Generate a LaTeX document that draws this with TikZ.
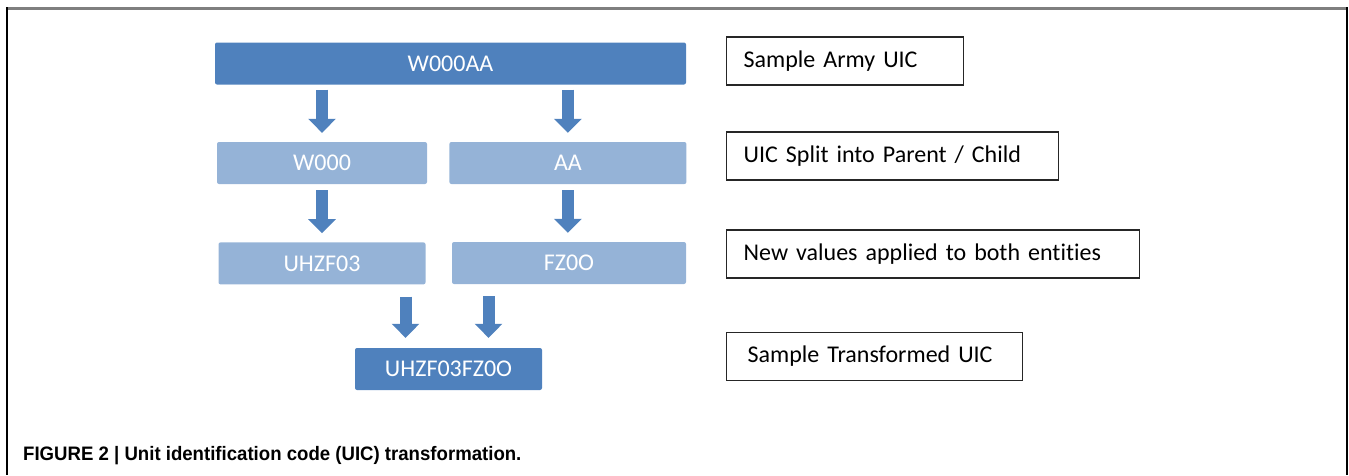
\documentclass[tikz,border=0pt]{standalone}
\usepackage{fontspec}
\setmainfont{Carlito}[RawFeature=-liga]
\newfontfamily\capfont{Liberation Sans}
\usetikzlibrary{arrows.meta,positioning}
\definecolor{darkblue}{HTML}{4F81BD}
\definecolor{lightblue}{HTML}{95B3D7}
\definecolor{framegray}{HTML}{7F7F7F}

\begin{document}
\begin{tikzpicture}[x=1pt,y=-1pt,font=\fontsize{24}{28}\selectfont,
		code/.style={rectangle,rounded corners=2pt,text=white,minimum height=42pt,inner sep=0pt},
		dark/.style={code,fill=darkblue},
		light/.style={code,fill=lightblue},
		lbl/.style={draw=black!85,line width=1.3pt,minimum height=48pt,anchor=west,align=left,inner xsep=17pt},
		bigarrow/.style={darkblue,line width=12pt,-{Triangle[width=27pt,length=14pt]}}]
			\useasboundingbox (0,0) rectangle (1349,475);
			% frame
			\draw[framegray,line width=3pt] (7,8.5) -- (1348,8.5);
			\draw[black,line width=2pt] (7,7) -- (7,475);
			\draw[black,line width=2pt] (1347,7) -- (1347,475);
			% codes
			\node[dark, minimum width=471pt] (top) at (450.5,63.5) {W000AA};
			\node[light, minimum width=210pt] (w000) at (322,163) {W000};
			\node[light, minimum width=237pt] (aa) [right=22pt of w000] {AA};
			\node[light, minimum width=207pt] (uhzf) [below=58pt of w000] {UHZF03};
			\node[light, minimum width=234pt] (fz0o) at (569,263) {FZ0O};
			\node[dark, minimum width=187pt] (final) at (448.5,369) {UHZF03FZ0O};
			\coordinate (inl) at ([xshift=-43pt]final.north);
			\coordinate (inr) at ([xshift=40pt]final.north);
			% arrows
			\draw[bigarrow,shorten <=5pt,shorten >=9pt] (top.south -| w000.north) -- (w000.north);
			\draw[bigarrow,shorten <=5pt,shorten >=9pt] (top.south -| aa.north) -- (aa.north);
			\draw[bigarrow,shorten <=6pt,shorten >=9pt] (w000.south) -- (w000.south |- uhzf.north);
			\draw[bigarrow,shorten <=6pt,shorten >=9pt] (aa.south) -- (aa.south |- fz0o.north);
			\draw[bigarrow,shorten <=12pt,shorten >=10pt] (uhzf.south -| inl) -- (inl);
			\draw[bigarrow,shorten <=12pt,shorten >=10pt] (fz0o.south -| inr) -- (inr);
			% labels
			\node[lbl, text width=203pt] (l1) at (726,61) {Sample Army UIC};
			\node[lbl, text width=298pt] (l2) at (726,156) {UIC Split into Parent / Child};
			\node[lbl, text width=379pt] (l3) at (726,254) {New values applied to both entities};
			\node[lbl, text width=254pt, inner xsep=21pt] (l4) at (726,356.5) {Sample Transformed UIC};
			% caption
			\node[anchor=base west,inner sep=0pt,font=\capfont\bfseries\fontsize{19.5}{22}\selectfont] (cap) at (23,460)
				{\scalebox{0.954}[1]{FIGURE 2 | Unit identification code (UIC) transformation.}};
		\end{tikzpicture}
\end{document}
